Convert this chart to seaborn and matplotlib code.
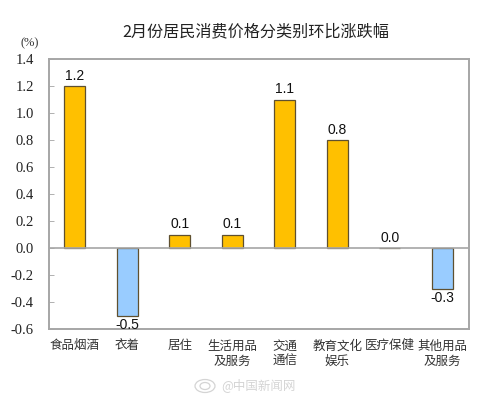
import matplotlib
matplotlib.use('Agg')
import matplotlib.pyplot as plt
from matplotlib.patches import Ellipse
import pandas as pd
import seaborn as sns

# 分类与环比涨跌幅
categories = ['食品烟酒', '衣着', '居住', '生活用品\n及服务', '交通\n通信', '教育文化\n娱乐', '医疗保健', '其他用品\n及服务']
values = [1.2, -0.5, 0.1, 0.1, 1.1, 0.8, 0.0, -0.3]
y_ticks = [-0.6, -0.4, -0.2, 0.0, 0.2, 0.4, 0.6, 0.8, 1.0, 1.2, 1.4]

sns.set_theme(style='white')
plt.rcParams['font.family'] = ['Noto Sans CJK SC', 'DejaVu Sans']

df = pd.DataFrame({'cat': categories, 'val': values})
colors = ['#FFC000' if v >= 0 else '#99CCFF' for v in values]

W, H = 495, 401
fig = plt.figure(figsize=(W / 100, H / 100), dpi=100)
ax = fig.add_axes([48.5 / W, 1 - 329 / H, 420 / W, 270 / H])

sns.barplot(data=df, x='cat', y='val', hue='cat', palette=colors, legend=False,
            width=0.4, saturation=1, edgecolor='#5f5030', linewidth=0.9, ax=ax)

ax.set_xlim(-0.5, 7.5)
ax.set_ylim(-0.6, 1.4)
ax.set_xlabel('')
ax.set_ylabel('')
ax.set_yticks(y_ticks)
ax.set_yticklabels([f'{t:.1f}' for t in y_ticks])
ax.tick_params(axis='y', direction='in', length=3.5, width=0.7, color='#b0b0b0', pad=10.5, left=True)
ax.tick_params(axis='x', bottom=False, pad=1.5, labelsize=9, labelcolor='#333333')
for label in ax.get_yticklabels():
    label.set_fontfamily(['Liberation Serif', 'DejaVu Serif'])
    label.set_fontsize(10.5)
    label.set_color('#222222')
for label in ax.get_xticklabels():
    label.set_linespacing(1.2)

for s in ax.spines.values():
    s.set_visible(True)
    s.set_color('#a6a6a6')
    s.set_linewidth(1.4)
ax.axhline(0, color='#a6a6a6', lw=1.2, zorder=3)

# 数值标签
for i, v in enumerate(values):
    off = 2.5 if v >= 0 else -1.5
    ax.annotate(f'{v:.1f}', (i, v), xytext=(0, off), textcoords='offset points',
                ha='center', va='bottom' if v >= 0 else 'top',
                family=['Liberation Sans'], fontsize=10, color='#111111')

fig.text(255.5 / W, 1 - 31.5 / H, '2月份居民消费价格分类别环比涨跌幅', ha='center', va='center',
         fontsize=11.6, color='#222222')
fig.text(30 / W, 1 - 43 / H, '(%)', ha='center', va='center',
         family=['Liberation Serif'], fontsize=9, color='#333333')

# 水印
fig.text(258 / W, 1 - 385 / H, '@中国新闻网', ha='center', va='center',
         fontsize=9, color='#d4d4d4')
for w, h in [(20, 13), (10, 7)]:
    fig.add_artist(Ellipse((205 / W, 1 - 386 / H), w / W, h / H, transform=fig.transFigure,
                           fill=False, edgecolor='#d4d4d4', lw=0.9))

fig.savefig('out.png', dpi=100)
